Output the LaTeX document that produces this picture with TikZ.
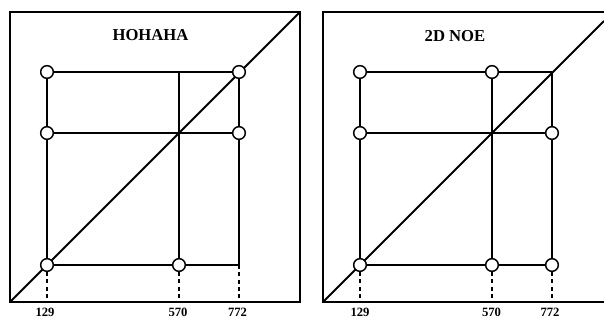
\documentclass[tikz,border=0pt]{standalone}
\usepackage{fontspec}
\setmainfont{Liberation Serif}

\tikzset{every picture/.style={line width=0.75pt}}
\tikzset{
peak/.style={circle, draw, fill=white, inner sep=0pt, minimum size=9.5pt, line width=1.1pt},
grid line/.style={line width=1pt},
frame/.style={line width=1.9pt},
diag/.style={line width=1.5pt},
drop line/.style={dash pattern=on 3pt off 2.5pt, line width=0.9pt},
shift label/.style={inner sep=0.75pt, font=\bfseries\fontsize{9.5}{11}\selectfont},
panel title/.style={inner sep=0.75pt, font=\bfseries\fontsize{12.5}{14}\selectfont}}

\begin{document}
\begin{tikzpicture}[x=0.75pt,y=0.75pt,yscale=-1,xscale=1]
\useasboundingbox (0,0) rectangle (604,325);

%%% HOHAHA panel
%Shape: Frame
\draw [frame] (10,12) rectangle (300,302);
\coordinate (lbase) at (10,302);
%Straight Lines: diagonal
\draw [diag] (lbase) -- (300,12);

% Peaks
\node [peak] (l129t) at (47,72) {};
\coordinate (l570t) at (179,72);
\node [peak] (l772t) at (239,72) {};
\node [peak] (l129m) at (47,133) {};
\coordinate (l570m) at (179,133);
\node [peak] (l772m) at (239,133) {};
\node [peak] (l129b) at (47,265) {};
\node [peak] (l570b) at (179,265) {};
\coordinate (l772b) at (239,265);

%Straight Lines
\draw [grid line] (l129t) -- (l570t) -- (l772t);
\draw [grid line] (l129m) -- (l570m) -- (l772m);
\draw [grid line] (l129b) -- (l570b) -- (l772b);
\draw [grid line] (l129t) -- (l129m) -- (l129b);
\draw [grid line] (l570t) -- (l570m) -- (l570b);
\draw [grid line] (l772t) -- (l772m) -- (l772b);
%Dashed Lines
\draw [drop line] (l129b) -- (l129b |- lbase);
\draw [drop line] (l570b) -- (l570b |- lbase);
\draw [drop line] (l772b) -- (l772b |- lbase);

% Text Node
\node [panel title] (ltitle) at (150.5,35) {HOHAHA};
% Text Node
\node [shift label] (l129lab) at (45,312) {129};
\node [shift label] (l570lab) at (178,312) {570};
\node [shift label] (l772lab) at (237.5,312) {772};

%%% 2D NOE panel
\begin{scope}[shift={(313,0)}]
%Shape: Frame (cut at the right)
\draw [frame] (291,12) -- (10,12) -- (10,302) -- (291,302);
\coordinate (rbase) at (10,302);
%Straight Lines: diagonal
\draw [diag] (rbase) -- (291,21);

% Peaks
\node [peak] (r129t) at (47,72) {};
\node [peak] (r570t) at (179,72) {};
\coordinate (r772t) at (239,72);
\node [peak] (r129m) at (47,133) {};
\coordinate (r570m) at (179,133);
\node [peak] (r772m) at (239,133) {};
\node [peak] (r129b) at (47,265) {};
\node [peak] (r570b) at (179,265) {};
\node [peak] (r772b) at (239,265) {};

%Straight Lines
\draw [grid line] (r129t) -- (r570t) -- (r772t);
\draw [grid line] (r129m) -- (r570m) -- (r772m);
\draw [grid line] (r129b) -- (r570b) -- (r772b);
\draw [grid line] (r129t) -- (r129m) -- (r129b);
\draw [grid line] (r570t) -- (r570m) -- (r570b);
\draw [grid line] (r772t) -- (r772m) -- (r772b);
%Dashed Lines
\draw [drop line] (r129b) -- (r129b |- rbase);
\draw [drop line] (r570b) -- (r570b |- rbase);
\draw [drop line] (r772b) -- (r772b |- rbase);

% Text Node
\node [panel title] (rtitle) at (142,36) {2D NOE};
% Text Node
\node [shift label] (r129lab) at (47,312) {129};
\node [shift label] (r570lab) at (178.5,312) {570};
\node [shift label] (r772lab) at (237,312) {772};
\end{scope}

\end{tikzpicture}
\end{document}
